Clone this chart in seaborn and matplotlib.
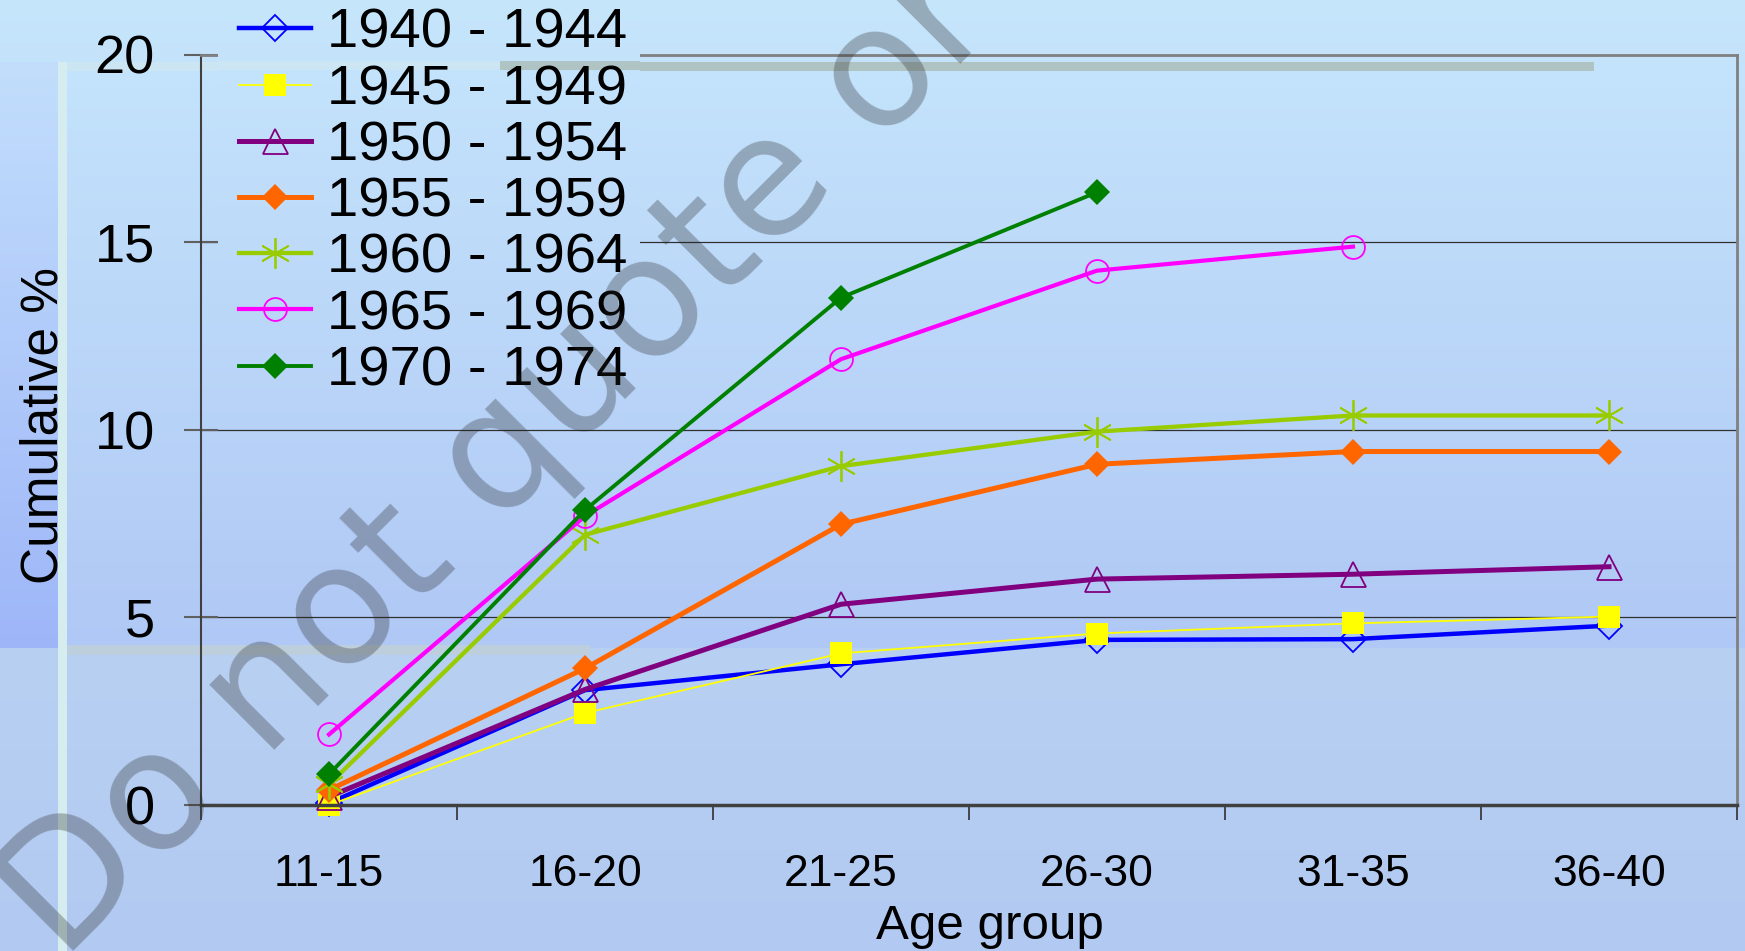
import numpy as np
import matplotlib
matplotlib.use("Agg")
import matplotlib.pyplot as plt
import seaborn as sb

# data (cumulative %, by age group)
age_groups = ["11-15", "16-20", "21-25", "26-30", "31-35", "36-40"]
cohorts = ["1940 - 1944", "1945 - 1949", "1950 - 1954", "1955 - 1959",
           "1960 - 1964", "1965 - 1969", "1970 - 1974"]
c1940 = [0.05, 3.06, 3.75, 4.40, 4.42, 4.78]
c1945 = [0.0, 2.45, 4.04, 4.57, 4.84, 5.02]
c1950 = [0.22, 3.08, 5.35, 6.02, 6.15, 6.35]
c1955 = [0.40, 3.64, 7.48, 9.08, 9.42, 9.42]
c1960 = [0.55, 7.20, 9.03, 9.95, 10.38, 10.38]
c1965 = [1.88, 7.70, 11.88, 14.24, 14.88]
c1970 = [0.82, 7.86, 13.52, 16.33]
series = [c1940, c1945, c1950, c1955, c1960, c1965, c1970]

# style per cohort: colour, marker, size, filled, line width
styles = [
    ("#0000ff", "D", 13.0, False, 3.2),
    ("#ffff00", "s", 16.5, True, 1.3),
    ("#800080", "^", 18.0, False, 3.6),
    ("#ff6600", "D", 13.2, True, 3.6),
    ("#99cc00", (6, 2, 0), 22.0, False, 3.1),
    ("#ff00ff", "o", 16.5, False, 3.0),
    ("#008000", "D", 12.8, True, 2.8),
]

W, H = 1745, 951
plt.rcParams["font.family"] = ["Liberation Sans", "DejaVu Sans"]

# slide-like background
def ramp(c0, c1, t):
    c0 = np.array(c0) / 255.0
    c1 = np.array(c1) / 255.0
    return c0 + (c1 - c0) * t[..., None]

rows = np.arange(H)[:, None] * np.ones((1, W))
cols = np.ones((H, 1)) * np.arange(W)[None, :]
bg = np.where((rows < 648)[..., None],
              ramp((198, 230, 252), (176, 200, 245), np.clip(rows / 648, 0, 1)),
              ramp((184, 208, 242), (178, 202, 242), np.clip((rows - 648) / (H - 648), 0, 1)))
left = (cols < 58) & (rows >= 62) & (rows < 648)
bg[left] = ramp((194, 222, 252), (158, 182, 248), np.clip((rows[left] - 62) / 586, 0, 1))
bg[(cols >= 58) & (cols < 67) & (rows >= 62)] = np.array([214, 238, 240]) / 255
bg[(rows >= 62) & (rows < 71) & (cols >= 67) & (cols < 500)] = np.array([204, 230, 244]) / 255
bg[(rows >= 62) & (rows < 71) & (cols >= 500) & (cols < 1594)] = np.array([176, 196, 196]) / 255
bg[(rows >= 645) & (rows < 655) & (cols >= 67) & (cols < 590)] = np.array([190, 208, 222]) / 255

fig = plt.figure(figsize=(W / 100, H / 100), dpi=100)
bax = fig.add_axes([0, 0, 1, 1], zorder=-1)
bax.imshow(bg, extent=[0, 1, 0, 1], aspect="auto")
bax.axis("off")

ax = fig.add_axes([201 / W, 1 - 805 / H, 1536 / W, 750.5 / H], zorder=0)
ax.set_facecolor("none")

for vals, label, (col, mk, ms, filled, lw) in zip(series, cohorts, styles):
    x = np.arange(len(vals))
    sb.lineplot(x=x, y=vals, ax=ax, color=col, lw=lw, marker=mk, markersize=ms,
                markerfacecolor=col if filled else "none", markeredgecolor=col,
                markeredgewidth=0 if filled else 1.3, label=label, sort=False,
                estimator=None, errorbar=None, clip_on=False, legend=False)

ax.set_xlim(-0.5, 5.5)
ax.set_ylim(0, 20)
ax.set_xticks(range(len(age_groups)))
ax.set_xticklabels(age_groups)
ax.set_xticks(np.arange(-0.5, 6, 1), minor=True)
ax.set_yticks([0, 5, 10, 15, 20])
ax.tick_params(axis="x", which="major", length=0, pad=35, labelsize=32)
ax.tick_params(axis="x", which="minor", length=11, width=1.2, color="#303030", direction="out")
ax.tick_params(axis="y", direction="inout", length=24.5, width=1.5, color="#606060",
               pad=21, labelsize=39)
ax.yaxis.grid(True, color="#303030", lw=0.9)
ax.set_axisbelow(True)
ax.spines["left"].set_color("#404040")
ax.spines["left"].set_linewidth(1.5)
ax.spines["bottom"].set_color("#404040")
ax.spines["bottom"].set_linewidth(2.5)
for s in ["top", "right"]:
    ax.spines[s].set_color("#808080")
    ax.spines[s].set_linewidth(2)

ax.set_xlabel("Age group", fontsize=35.5)
ax.set_ylabel("Cumulative %", fontsize=37)
ax.xaxis.set_label_coords(0.5137, -0.132)
ax.yaxis.set_label_coords(-0.086, 0.506)

# patch of background under the legend so gridlines stop there
lx0, lx1, ly1 = 218, 640, 395
oax = fig.add_axes([lx0 / W, 1 - ly1 / H, (lx1 - lx0) / W, ly1 / H], zorder=1)
oax.imshow(bg, extent=[0, 1, 0, 1], aspect="auto")
oax.set_xlim(lx0 / W, lx1 / W)
oax.set_ylim(1 - ly1 / H, 1)
oax.axis("off")

handles, labels = ax.get_legend_handles_labels()
leg = fig.legend(handles, labels, loc="upper left", bbox_to_anchor=(239 / W, 1 - 8 / H),
                 frameon=False, borderpad=0, borderaxespad=0, handlelength=1.28,
                 handletextpad=0.28, labelspacing=0.075, fontsize=40.5)
leg.set_zorder(5)

fig.text(62 / W, 1 - 962 / H, "Do not quote or cite", rotation=45, fontsize=121,
         family="DejaVu Sans", color="#242424", alpha=0.3, ha="left", va="baseline",
         rotation_mode="anchor", zorder=10)

fig.savefig("out.png", dpi=100)
